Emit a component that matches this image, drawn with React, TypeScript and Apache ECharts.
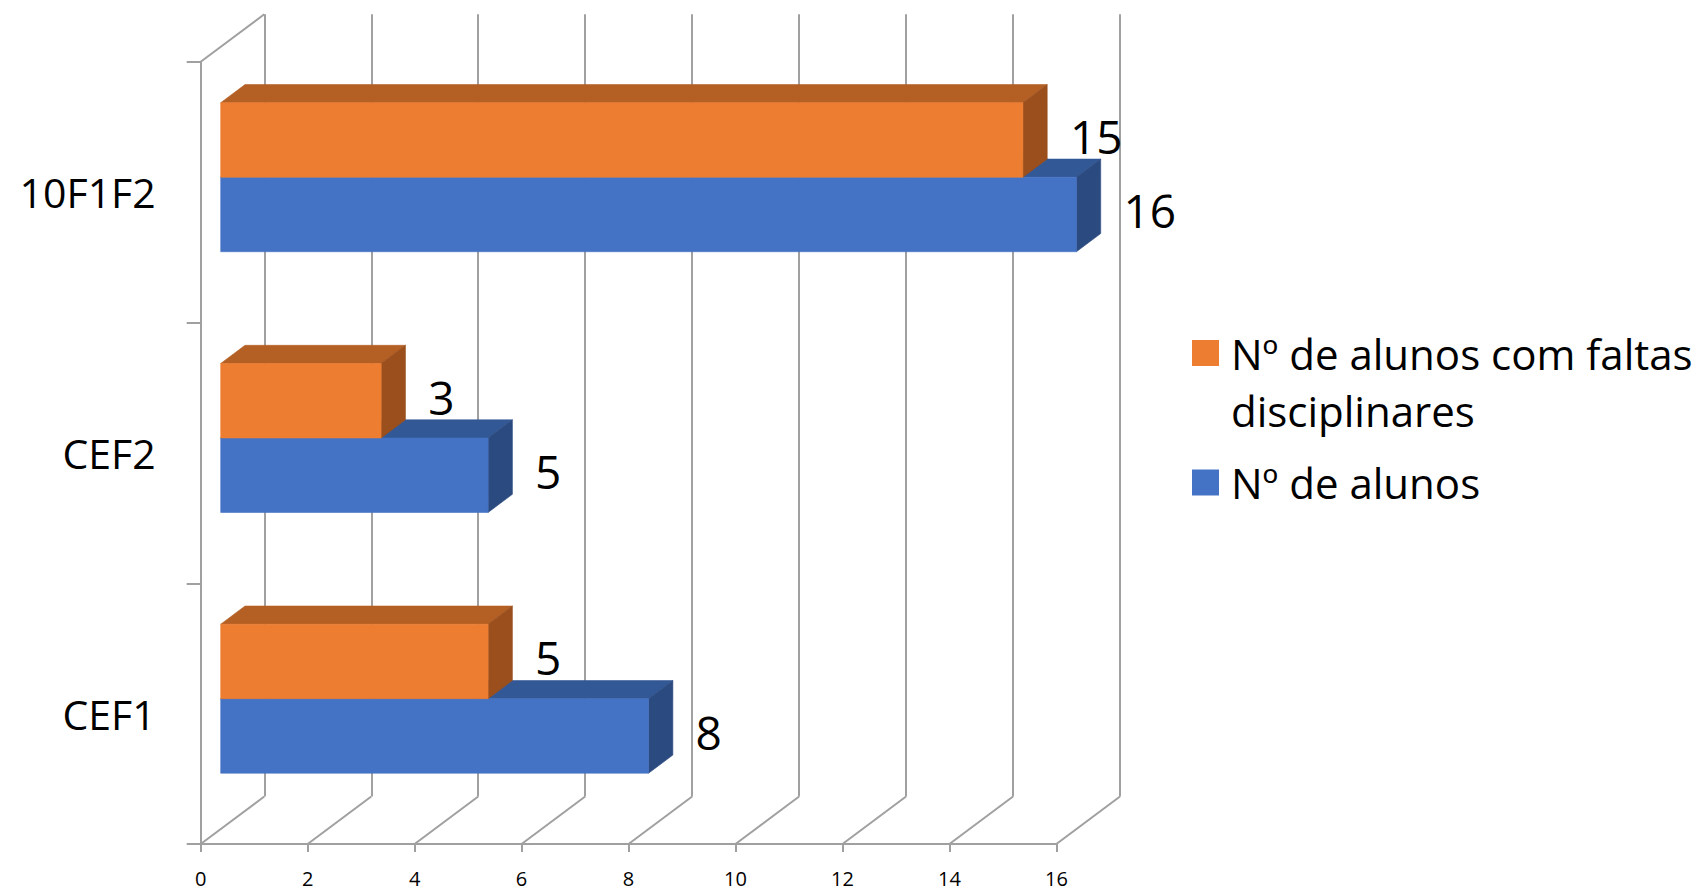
import React, { useEffect, useRef } from "react";
import * as echarts from "echarts";

// ---- data ----
const categories = ["CEF1", "CEF2", "10F1F2"];
const seriesNames = ["Nº de alunos com faltas disciplinares", "Nº de alunos"];
const faltas = [5, 3, 15];
const alunos = [8, 5, 16];
const xTicks = [0, 2, 4, 6, 8, 10, 12, 14, 16];
const legendLines = ["Nº de alunos com faltas", "disciplinares"];

// ---- layout / style ----
const W = 1701;
const H = 895;
const FRONT = { left: 200.7, top: 61.8, width: 855.7, height: 782.2 };
const DEPTH = { dx: 63.6, dy: -47.5 };
const BAR_FRONT = 0.3145;
const BAR_DEPTH = 0.382;
const GAP = 1.5;
const GRID_COLOR = "#A0A0A0";
const FONT = "Open Sans";

const COLORS = {
  orange: { front: "#ED7D31", top: "#B45F24", side: "#9A4F1D" },
  blue: { front: "#4472C4", top: "#335896", side: "#2B4A80" },
};

function makeBarRenderer(slot: number, c: { front: string; top: string; side: string }) {
  return (params: any, api: any) => {
    const v = api.value(0);
    const ci = api.value(1);
    const [xv, yc] = api.coord([v, ci]);
    const [x0] = api.coord([0, ci]);
    const band = api.size([0, 1])[1];
    const h = band / (2 + GAP);
    const ox = DEPTH.dx * BAR_FRONT;
    const oy = DEPTH.dy * BAR_FRONT;
    const bx = DEPTH.dx * BAR_DEPTH;
    const by = DEPTH.dy * BAR_DEPTH;
    const left = x0 + ox;
    const right = xv + ox;
    const top = yc + oy - h + slot * h;
    const bottom = top + h;
    const edge = (fill: string) => ({ fill, stroke: fill, lineWidth: 0.6 });
    return {
      type: "group",
      children: [
        {
          type: "polygon",
          shape: { points: [[left, top], [right, top], [right + bx, top + by], [left + bx, top + by]] },
          style: edge(c.top),
        },
        {
          type: "polygon",
          shape: { points: [[right, top], [right + bx, top + by], [right + bx, bottom + by], [right, bottom]] },
          style: edge(c.side),
        },
        {
          type: "rect",
          shape: { x: left, y: top, width: right - left, height: h },
          style: edge(c.front),
        },
        {
          type: "text",
          style: {
            text: String(v),
            x: right + 47,
            y: (top + bottom) / 2 - 4,
            fill: "#000",
            fontSize: 46,
            fontFamily: FONT,
            align: "left",
            verticalAlign: "middle",
          },
        },
      ],
    };
  };
}

function floorRenderer(params: any, api: any) {
  const v = api.value(0);
  const [x] = api.coord([v, 0]);
  const cs = params.coordSys;
  const floorY = cs.y + cs.height;
  const style = { stroke: GRID_COLOR, lineWidth: 2 };
  const children: any[] = [
    { type: "line", shape: { x1: x, y1: floorY, x2: x + DEPTH.dx, y2: floorY + DEPTH.dy }, style },
  ];
  if (v === xTicks[0]) {
    children.push({
      type: "line",
      shape: { x1: x, y1: cs.y, x2: x + DEPTH.dx, y2: cs.y + DEPTH.dy },
      style,
    });
  }
  return { type: "group", children };
}

export default function App() {
  const ref = useRef<HTMLDivElement>(null);

  useEffect(() => {
    if (!ref.current) return;
    const chart = echarts.init(ref.current, undefined, { renderer: "svg" });
    const legendFont = {
      fontSize: 42,
      fontFamily: FONT,
      color: "#000",
      lineHeight: 57,
      padding: [0, 0, 0, 7],
    };
    chart.setOption({
      animation: false,
      backgroundColor: "#fff",
      grid: [
        { left: FRONT.left, top: FRONT.top, width: FRONT.width, height: FRONT.height },
        {
          left: FRONT.left + DEPTH.dx,
          top: FRONT.top + DEPTH.dy,
          width: FRONT.width,
          height: FRONT.height,
        },
      ],
      xAxis: [
        {
          type: "value",
          gridIndex: 0,
          min: 0,
          max: 16,
          interval: 2,
          axisLine: { show: true, lineStyle: { color: GRID_COLOR, width: 2 } },
          axisTick: { show: true, length: 8, lineStyle: { color: GRID_COLOR, width: 2 } },
          splitLine: { show: false },
          axisLabel: { color: "#000", fontSize: 20, fontFamily: FONT, margin: 24 },
        },
        {
          type: "value",
          gridIndex: 1,
          min: 0,
          max: 16,
          interval: 2,
          axisLine: { show: false },
          axisTick: { show: false },
          axisLabel: { show: false },
          splitLine: { show: true, lineStyle: { color: GRID_COLOR, width: 2 } },
        },
      ],
      yAxis: [
        {
          type: "category",
          gridIndex: 0,
          data: categories,
          axisLine: { show: true, lineStyle: { color: GRID_COLOR, width: 2 } },
          axisTick: { show: true, length: 14, lineStyle: { color: GRID_COLOR, width: 2 } },
          axisLabel: { color: "#000", fontSize: 41, fontFamily: FONT, margin: 45 },
          splitLine: { show: false },
        },
        {
          type: "category",
          gridIndex: 1,
          data: categories,
          show: false,
        },
      ],
      legend: [
        {
          data: [{ name: seriesNames[0], icon: "rect" }],
          orient: "vertical",
          left: 1192,
          top: 353 - 85.5,
          padding: 0,
          itemWidth: 27,
          itemHeight: 26,
          formatter: () => " \n" + legendLines.join("\n"),
          textStyle: { ...legendFont },
        },
        {
          data: [{ name: seriesNames[1], icon: "rect" }],
          orient: "vertical",
          left: 1192,
          top: 482.5 - 28.5,
          padding: 0,
          itemWidth: 27,
          itemHeight: 26,
          textStyle: { ...legendFont },
        },
      ],
      series: [
        {
          type: "custom",
          name: "floor",
          xAxisIndex: 0,
          yAxisIndex: 0,
          silent: true,
          z: 1,
          renderItem: floorRenderer,
          data: xTicks.map((v) => [v, 0]),
        },
        {
          type: "custom",
          name: seriesNames[0],
          xAxisIndex: 0,
          yAxisIndex: 0,
          z: 4,
          itemStyle: { color: COLORS.orange.front },
          renderItem: makeBarRenderer(0, COLORS.orange),
          encode: { x: 0, y: 1 },
          data: faltas.map((v, i) => [v, i]),
        },
        {
          type: "custom",
          name: seriesNames[1],
          xAxisIndex: 0,
          yAxisIndex: 0,
          z: 3,
          itemStyle: { color: COLORS.blue.front },
          renderItem: makeBarRenderer(1, COLORS.blue),
          encode: { x: 0, y: 1 },
          data: alunos.map((v, i) => [v, i]),
        },
      ],
    });
    return () => chart.dispose();
  }, []);

  return (
    <div
      ref={ref}
      style={{ position: "fixed", left: 0, top: 0, width: W, height: H, background: "#fff" }}
    />
  );
}
